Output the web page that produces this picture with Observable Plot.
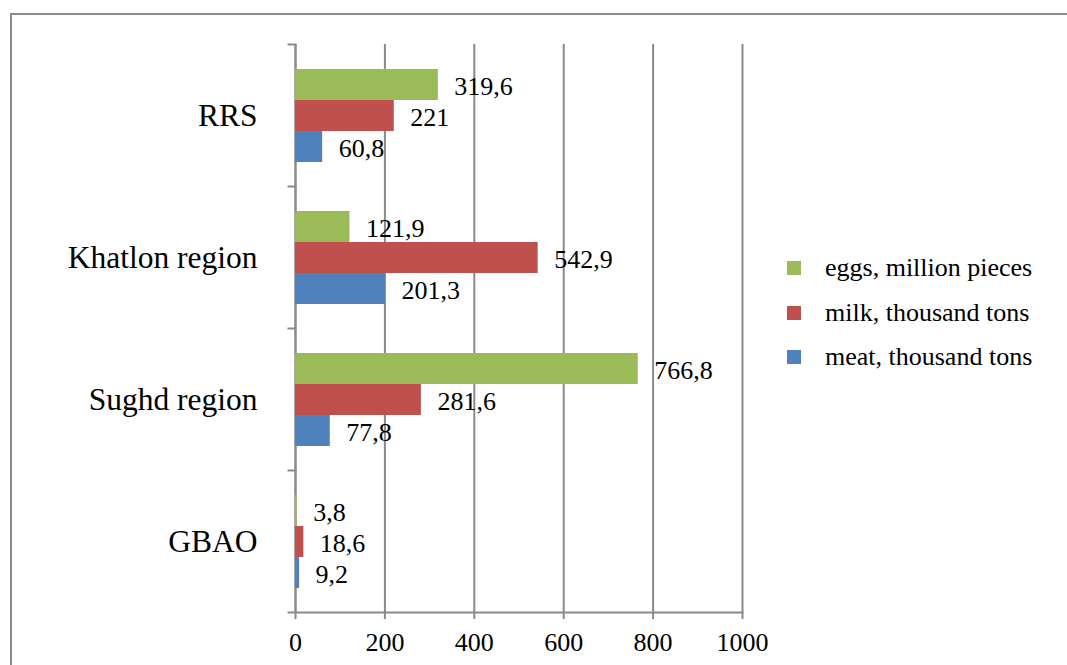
<!DOCTYPE html>
<html>
<head>
<meta charset="utf-8">
<script src="https://cdn.jsdelivr.net/npm/d3@7"></script>
<script src="https://cdn.jsdelivr.net/npm/@observablehq/plot@0.6"></script>
<style>
  html, body { margin: 0; padding: 0; background: #fff; }
  #wrap { position: relative; width: 1067px; height: 665px; overflow: hidden; font-family: "Liberation Serif", "Times New Roman", serif; }
  #border { position: absolute; left: 10px; top: 13px; width: 1200px; height: 800px; border-top: 2px solid #8c8c8c; border-left: 2px solid #8c8c8c; pointer-events: none; }
  #chart { position: absolute; left: 0; top: 0; }
  .leg { position: absolute; left: 787px; font-size: 26px; color: #000; font-family: "Liberation Serif", "Times New Roman", serif; }
  .leg .sw { position: absolute; left: 0; width: 14px; height: 14px; }
  .leg .lb { position: absolute; left: 38px; white-space: nowrap; line-height: 30px; }
</style>
</head>
<body>
<div id="wrap">
  <div id="border"></div>
  <div id="chart"></div>
  <div id="legend"></div>
</div>
<script>
// ---- data ----
const regions = ["RRS", "Khatlon region", "Sughd region", "GBAO"];
const series = ["eggs, million pieces", "milk, thousand tons", "meat, thousand tons"];
const eggs = [319.6, 121.9, 766.8, 3.8];
const milk = [221, 542.9, 281.6, 18.6];
const meat = [60.8, 201.3, 77.8, 9.2];
const colors = ["#9BBB59", "#C0504D", "#4F81BD"];
const xTicks = [0, 200, 400, 600, 800, 1000];

const values = [eggs, milk, meat];
const data = regions.flatMap((r, i) => series.map((s, j) => ({region: r, series: s, value: values[j][i]})));
const fmt = v => String(v).replace(".", ",");

const W = 1067, H = 665;
const mL = 295, mR = 325, mT = 43, mB = 53;
const plotW = W - mL - mR;
const gray = "#8a8a8a";
const font = "Liberation Serif, Times New Roman, serif";

const chart = Plot.plot({
  width: W,
  height: H,
  marginLeft: mL,
  marginRight: mR,
  marginTop: mT,
  marginBottom: mB,
  style: {background: "transparent", fontFamily: font, fontSize: "26px", color: "#000"},
  x: {domain: [0, 1000], label: null},
  fy: {domain: regions, padding: 0, label: null},
  y: {domain: series, paddingInner: 0, paddingOuter: 0.75, axis: null, label: null},
  color: {domain: series, range: colors},
  marks: [
    Plot.gridX(xTicks, {stroke: gray, strokeOpacity: 1, strokeWidth: 2}),
    Plot.ruleX([0], {stroke: gray, strokeWidth: 2}),
    Plot.barX(data, {fy: "region", y: "series", x: "value", fill: "series"}),
    Plot.text(data, {fy: "region", y: "series", x: "value", text: d => fmt(d.value), textAnchor: "start", dx: 16, dy: 1.5, fontSize: 26, fontFamily: font, fill: "#000"}),
    Plot.frame({anchor: "top", insetLeft: -7, insetRight: plotW, stroke: gray, strokeWidth: 2}),
    Plot.frame({anchor: "bottom", fy: "GBAO", insetLeft: -7, stroke: gray, strokeWidth: 2}),
    Plot.axisX({ticks: xTicks, tickSize: 7, tickPadding: 13, stroke: gray, strokeWidth: 2, fill: "#000", fontSize: 26, fontFamily: font, label: null, tickFormat: d => String(d)}),
    Plot.axisFy({anchor: "left", tickSize: 0, tickPadding: 38, fontSize: 31.5, fontFamily: font, fill: "#000", label: null})
  ]
});
document.getElementById("chart").appendChild(chart);

// legend
const legend = document.getElementById("legend");
const legY = [268, 313, 357];
series.forEach((s, j) => {
  const row = document.createElement("div");
  row.className = "leg";
  row.style.top = legY[j] + "px";
  const sw = document.createElement("div");
  sw.className = "sw";
  sw.style.background = colors[j];
  sw.style.top = "-7px";
  const lb = document.createElement("div");
  lb.className = "lb";
  lb.style.top = "-15px";
  lb.textContent = s;
  row.appendChild(sw);
  row.appendChild(lb);
  legend.appendChild(row);
});
</script>
</body>
</html>
